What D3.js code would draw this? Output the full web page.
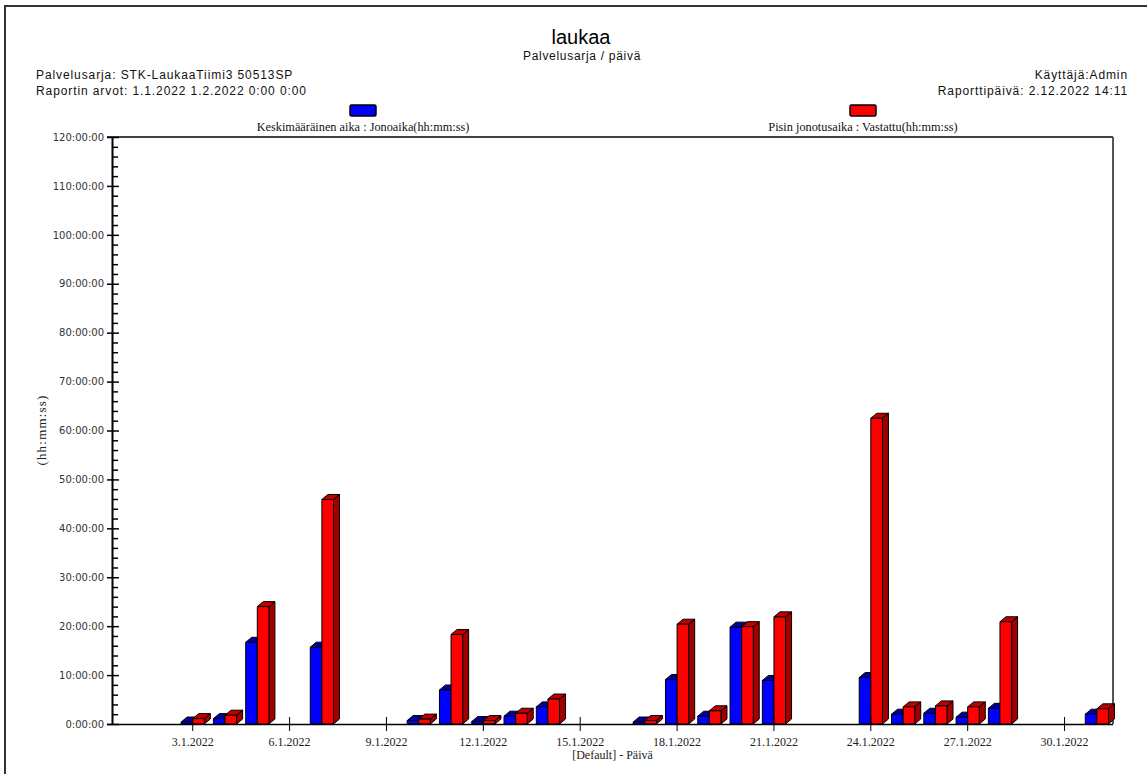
<!DOCTYPE html>
<html>
<head>
<meta charset="utf-8">
<script src="https://cdn.jsdelivr.net/npm/d3@7"></script>
<style>
  html, body { margin: 0; padding: 0; background: #fff; }
  svg { display: block; }
  .sans { font-family: "Liberation Sans", Arial, sans-serif; }
  .serif { font-family: "Liberation Serif", "Times New Roman", serif; }
</style>
</head>
<body>
<svg id="chart" width="1147" height="774"></svg>
<script>
// Days of the report period
const days = [
  "1.1.2022", "2.1.2022", "3.1.2022", "4.1.2022", "5.1.2022", "6.1.2022", "7.1.2022",
  "8.1.2022", "9.1.2022", "10.1.2022", "11.1.2022", "12.1.2022", "13.1.2022", "14.1.2022",
  "15.1.2022", "16.1.2022", "17.1.2022", "18.1.2022", "19.1.2022", "20.1.2022", "21.1.2022",
  "22.1.2022", "23.1.2022", "24.1.2022", "25.1.2022", "26.1.2022", "27.1.2022", "28.1.2022",
  "29.1.2022", "30.1.2022", "31.1.2022"
];

// Average queue time per day, in hours
const avgQueueHours = [
  0, 0, 0.4, 1.1, 16.7, 0, 15.7, 0, 0, 0.7, 6.95, 0.5, 1.6, 3.5, 0, 0,
  0.4, 9.1, 1.6, 19.8, 8.9, 0, 0, 9.5, 2.0, 2.2, 1.4, 3.2, 0, 0, 2.0
];

// Longest queue time (answered) per day, in hours
const maxQueueHours = [
  0, 0, 1.1, 1.8, 24.0, 0, 45.9, 0, 0, 1.0, 18.3, 0.7, 2.2, 5.1, 0, 0,
  0.7, 20.4, 2.7, 19.9, 21.9, 0, 0, 62.5, 3.5, 3.7, 3.5, 20.9, 0, 0, 3.1
];

// Labelled x ticks
const xTickDays = ["3.1.2022", "6.1.2022", "9.1.2022", "12.1.2022", "15.1.2022",
  "18.1.2022", "21.1.2022", "24.1.2022", "27.1.2022", "30.1.2022"];

// Y axis ticks (hours)
const yMajorTicks = [0, 10, 20, 30, 40, 50, 60, 70, 80, 90, 100, 110, 120];
const yMinorTicks = d3.range(0, 121, 2);

const seriesNames = [
  "Keskimääräinen aika : Jonoaika(hh:mm:ss)",
  "Pisin jonotusaika : Vastattu(hh:mm:ss)"
];

const svg = d3.select("#chart");

const plot = { left: 112, right: 1113, top: 137, bottom: 724 };

const x = d3.scaleBand().domain(days).range([plot.left, plot.right]);
const y = d3.scaleLinear().domain([0, 120]).range([plot.bottom, plot.top]);

// outer report frame
svg.append("path")
  .attr("d", "M5,780 L5,6 L1160,6")
  .attr("fill", "none").attr("stroke", "#333").attr("stroke-width", 2);

// header texts
svg.append("text").attr("class", "sans")
  .attr("x", 581).attr("y", 44).attr("text-anchor", "middle")
  .attr("font-size", 20).attr("fill", "#000").text("laukaa");
svg.append("text").attr("class", "sans")
  .attr("x", 582).attr("y", 60).attr("text-anchor", "middle")
  .attr("font-size", 12).attr("letter-spacing", 0.7).attr("fill", "#111")
  .text("Palvelusarja / päivä");

svg.append("text").attr("class", "sans")
  .attr("x", 36).attr("y", 79).attr("font-size", 12).attr("letter-spacing", 0.9)
  .attr("fill", "#111").text("Palvelusarja: STK-LaukaaTiimi3 50513SP");
svg.append("text").attr("class", "sans")
  .attr("x", 36).attr("y", 95).attr("font-size", 12).attr("letter-spacing", 0.9)
  .attr("fill", "#111").text("Raportin arvot: 1.1.2022 1.2.2022 0:00 0:00");
svg.append("text").attr("class", "sans")
  .attr("x", 1128).attr("y", 79).attr("text-anchor", "end").attr("font-size", 12)
  .attr("letter-spacing", 0.9).attr("fill", "#111").text("Käyttäjä:Admin");
svg.append("text").attr("class", "sans")
  .attr("x", 1128).attr("y", 95).attr("text-anchor", "end").attr("font-size", 12)
  .attr("letter-spacing", 0.9).attr("fill", "#111").text("Raporttipäivä: 2.12.2022 14:11");

// legend
const legendItems = [
  { name: seriesNames[0], color: "#0000ff", cx: 363 },
  { name: seriesNames[1], color: "#ff0000", cx: 863 }
];
const legend = svg.append("g");
legendItems.forEach(d => {
  legend.append("rect")
    .attr("x", d.cx - 13).attr("y", 105).attr("width", 26).attr("height", 11)
    .attr("rx", 1.5).attr("fill", d.color).attr("stroke", "#000").attr("stroke-width", 1.5);
  legend.append("text").attr("class", "serif")
    .attr("x", d.cx).attr("y", 131).attr("text-anchor", "middle")
    .attr("font-size", 12.3).attr("fill", "#111").text(d.name);
});

// plot frame: top and right edges
svg.append("line")
  .attr("x1", 107).attr("x2", plot.right).attr("y1", plot.top).attr("y2", plot.top)
  .attr("stroke", "#000").attr("stroke-width", 1.5);
svg.append("line")
  .attr("x1", plot.right).attr("x2", plot.right).attr("y1", plot.top).attr("y2", plot.bottom)
  .attr("stroke", "#555").attr("stroke-width", 2);

// 3D bars
const faceW = 11.6;
const depthX = 6, depthY = 5;
const series = [
  { values: avgQueueHours, front: "#0000ff", top: "#00009e", side: "#00008a", offset: -faceW },
  { values: maxQueueHours, front: "#ff0000", top: "#c00000", side: "#a00000", offset: 0 }
];

const bars = svg.append("g");
days.forEach((day, i) => {
  const cx = x(day) + x.bandwidth() / 2;
  series.forEach(s => {
    const v = s.values[i];
    if (!v) return;
    const x0 = cx + s.offset, x1 = x0 + faceW;
    const yt = y(v), yb = y(0);
    const g = bars.append("g").attr("stroke", "#000").attr("stroke-width", 1)
      .attr("stroke-linejoin", "round");
    // side face
    g.append("path")
      .attr("d", `M${x1},${yb} L${x1 + depthX},${yb - depthY} L${x1 + depthX},${yt - depthY} L${x1},${yt} Z`)
      .attr("fill", s.side);
    // top face
    g.append("path")
      .attr("d", `M${x0},${yt} L${x0 + depthX},${yt - depthY} L${x1 + depthX},${yt - depthY} L${x1},${yt} Z`)
      .attr("fill", s.top);
    // front face
    g.append("rect")
      .attr("x", x0).attr("y", yt).attr("width", faceW).attr("height", yb - yt)
      .attr("fill", s.front);
  });
});

// y axis: labelled major ticks
const yAxis = svg.append("g")
  .attr("transform", `translate(${plot.left},0)`)
  .call(d3.axisLeft(y).tickValues(yMajorTicks).tickFormat(h => h + ":00:00")
    .tickSizeInner(5).tickSizeOuter(0).tickPadding(3));
yAxis.select(".domain").attr("stroke", "#000").attr("stroke-width", 2);
yAxis.selectAll(".tick line").attr("stroke", "#000").attr("stroke-width", 1.5);
yAxis.selectAll(".tick").append("line")
  .attr("x1", 0).attr("x2", 7).attr("stroke", "#000").attr("stroke-width", 1.5);
yAxis.selectAll(".tick text")
  .attr("font-family", "DejaVu Sans, Verdana, sans-serif").attr("font-size", 10).attr("fill", "#333");

// y axis: minor ticks on the inside
const yMinor = svg.append("g")
  .attr("transform", `translate(${plot.left},0)`)
  .call(d3.axisRight(y).tickValues(yMinorTicks.filter(t => t % 10 !== 0))
    .tickFormat("").tickSize(6).tickSizeOuter(0));
yMinor.select(".domain").remove();
yMinor.selectAll(".tick line").attr("stroke", "#000").attr("stroke-width", 1.5);

// x axis
const xAxis = svg.append("g")
  .attr("transform", `translate(0,${plot.bottom})`)
  .call(d3.axisBottom(x).tickValues(xTickDays).tickSizeInner(7).tickSizeOuter(0).tickPadding(6));
xAxis.select(".domain").attr("stroke", "#000").attr("stroke-width", 1.5)
  .attr("d", `M${107},0.5H${plot.right}`);
xAxis.selectAll(".tick line").attr("stroke", "#000").attr("stroke-width", 1);
xAxis.selectAll(".tick").append("line")
  .attr("y1", 0).attr("y2", -7).attr("stroke", "#000").attr("stroke-width", 1);
xAxis.selectAll(".tick text")
  .attr("font-family", "Liberation Serif, Times New Roman, serif").attr("font-size", 12)
  .attr("fill", "#222");

// axis titles
svg.append("text").attr("class", "serif")
  .attr("x", (plot.left + plot.right) / 2).attr("y", 759).attr("text-anchor", "middle")
  .attr("font-size", 12).attr("fill", "#222").text("[Default] - Päivä");
svg.append("text").attr("class", "serif")
  .attr("transform", "translate(46,430) rotate(-90)").attr("text-anchor", "middle")
  .attr("font-size", 13).attr("letter-spacing", 1.2).attr("fill", "#222").text("(hh:mm:ss)");
</script>
</body>
</html>
